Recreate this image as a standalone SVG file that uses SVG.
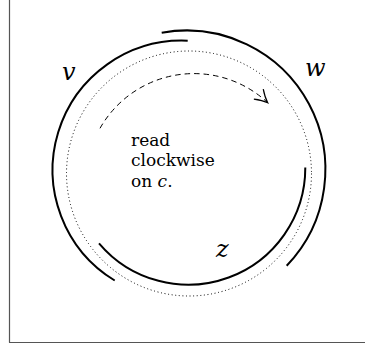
<svg xmlns="http://www.w3.org/2000/svg" width="365" height="349" viewBox="0 0 365 349">
<style>
.frame{stroke:#555;stroke-width:1.2;fill:none}
.arc{stroke:#000;stroke-width:2;fill:none;stroke-linecap:butt}
.dot{stroke:#000;stroke-width:1;fill:none;stroke-dasharray:1 2.6}
.dash{stroke:#000;stroke-width:1;fill:none;stroke-dasharray:5.5 4}
.lbl{font-family:'DejaVu Serif','Liberation Serif',serif;font-style:italic;font-size:24px;fill:#000}
.txt{font-family:'DejaVu Serif','Liberation Serif',serif;font-size:17px;fill:#000}
</style>
<defs>
<marker id="arr" markerUnits="userSpaceOnUse" markerWidth="20" markerHeight="20" viewBox="-12 -8 16 16" refX="0" refY="0" orient="auto">
<path d="M-10,-5.5 Q-4.5,-1.5 0,0 Q-4.5,1.5 -10,5.5" fill="none" stroke="#000" stroke-width="1"/>
</marker>
</defs>
<g id="frame">
<line class="frame" x1="9.5" y1="0" x2="9.5" y2="342.5"/>
<line class="frame" x1="9" y1="342.5" x2="365" y2="342.5"/>
</g>
<g id="connectors">
<circle id="c" class="dot" cx="189" cy="173.5" r="122.5"/>
<path id="arc-v" class="arc" d="M114.7,280.5 A129.4,129.4 0 0 1 187.7,40.7"/>
<path id="arc-w" class="arc" d="M161.7,32.7 A139,139 0 0 1 286.7,265.7"/>
<path id="arc-z" class="arc" d="M305.3,167.5 A117,117 0 0 1 99,243.3"/>
<path id="read-arrow" class="dash" d="M100,128.3 A108,108 0 0 1 267.7,102.7" marker-end="url(#arr)"/>
</g>
<g id="node-v"><text class="lbl" x="62" y="80">v</text></g>
<g id="node-w"><text class="lbl" x="305" y="76">w</text></g>
<g id="node-z"><text class="lbl" x="216" y="257">z</text></g>
<g id="note">
<text class="txt" x="131" y="145.5">read</text>
<text class="txt" x="131" y="166">clockwise</text>
<text class="txt" x="131" y="186.5">on <tspan font-style="italic">c</tspan>.</text>
</g>
</svg>
